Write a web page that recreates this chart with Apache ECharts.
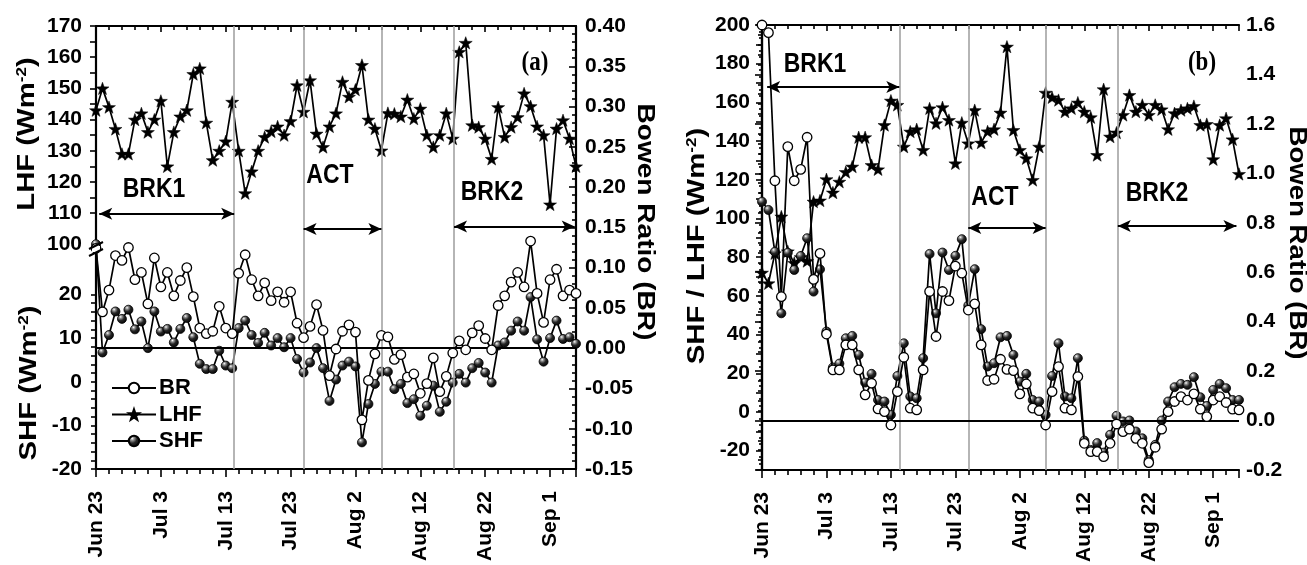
<!DOCTYPE html>
<html>
<head>
<meta charset="utf-8">
<script src="https://cdn.jsdelivr.net/npm/echarts@6/dist/echarts.min.js"></script>
<style>
  html, body { margin: 0; padding: 0; background: #fff; }
  #main { width: 1307px; height: 565px; }
</style>
</head>
<body>
<div id="main"></div>
<script>
// Daily series, day 0 = Jun 23, last day = Sep 5 (day 74)
const dayTickLabels = ['Jun 23', 'Jul 3', 'Jul 13', 'Jul 23', 'Aug 2', 'Aug 12', 'Aug 22', 'Sep 1'];
const lastDay = 74;

// Phase boundaries (day index): end of BRK1, start of ACT, end of ACT, start of BRK2
const phaseBounds = [21.3, 32, 44, 55.2];
const phaseNames = ['BRK1', 'ACT', 'BRK2'];

// Panel (a)
const lhfA = [143, 150, 144, 137, 129, 129, 140, 142, 136, 140, 146, 125, 136, 141, 143, 154.6, 156.4, 139, 127, 130,
  133, 145.7, 130, 116.4, 123.4, 130, 134.4, 136.2, 137.8, 135, 139.5, 151, 142.5, 152.6, 135.5, 131.2, 137.8, 142, 152.1, 147.3,
  149.6, 157.5, 140, 137.1, 130.1, 142.1, 141.9, 141, 146.4, 140.3, 143.5, 135, 131.2, 135, 142, 133.9, 161.7, 164.6, 138.2, 137.6,
  133.9, 127.4, 144, 134.4, 137.6, 140.8, 148.4, 144.3, 137.8, 135, 112.8, 137.1, 139.8, 133.9, 125];
const shfA = [100, 6.7, 10.7, 16.1, 14.4, 16.5, 12, 13.8, 7.7, 16.1, 11.5, 12.1, 9, 12.1, 14.6, 10.2, 4.1, 2.9, 2.9, 7.1,
  3.7, 3.1, 12.3, 14, 10.7, 8.9, 11.2, 8.3, 10, 7.9, 10, 5.2, 2.1, 4.4, 7.7, 3.1, -4.4, 0.5, 3.7, 4.6,
  3.5, -13.9, -5.1, -0.5, 2.3, 2.3, -1.7, -0.5, -4.9, -4, -7.8, -5.5, -0.9, -6.9, -4.6, -0.2, 1.8, -0.2, 3.1, 4.3,
  2.1, -0.2, 8.3, 9, 11.7, 13.8, 11.7, 19.4, 9.7, 4.6, 10, 14, 9.8, 10.2, 8.7];
const brA = [0.124, 0.045, 0.072, 0.115, 0.109, 0.125, 0.085, 0.094, 0.055, 0.112, 0.076, 0.094, 0.065, 0.084, 0.1, 0.064, 0.025, 0.018, 0.021, 0.052,
  0.025, 0.018, 0.093, 0.116, 0.085, 0.065, 0.081, 0.059, 0.07, 0.057, 0.07, 0.031, 0.013, 0.027, 0.054, 0.022, -0.034, -0.001, 0.021, 0.029,
  0.02, -0.089, -0.04, -0.007, 0.016, 0.014, -0.014, -0.008, -0.036, -0.032, -0.056, -0.044, -0.012, -0.054, -0.035, -0.006, 0.009, -0.002, 0.019, 0.028,
  0.012, -0.002, 0.053, 0.065, 0.082, 0.094, 0.076, 0.133, 0.068, 0.032, 0.085, 0.098, 0.065, 0.072, 0.068];

// Panel (b)
const lhfB = [72, 66.5, 82, 101, 83, 77, 80, 78, 108.7, 109.3, 120.3, 113.4, 119, 124, 126.8, 142, 142, 127.6, 125.4, 148.3,
  160.9, 158.7, 137.1, 144.9, 146.1, 135.4, 156.9, 149.2, 157.5, 150.9, 128.5, 149.5, 138.8, 156, 139.2, 145, 146.1, 154.7, 188.8, 145.7,
  135.4, 131.1, 119.9, 137.1, 165, 162.6, 161.2, 155.2, 156.9, 159.9, 155.2, 152.3, 132.8, 166.8, 142.3, 144.4, 153.5, 163.8, 155.2, 158.7,
  153.5, 158.7, 156.4, 146.1, 154.4, 156, 156.9, 158.1, 148.3, 148.8, 130.6, 148.3, 151.8, 140.9, 123];
const shfB = [108.7, 104.4, 82.8, 51, 82.3, 73.4, 80.6, 89.8, 62.2, 73.7, 41.6, 23, 25, 38.1, 39.3, 29.5, 15.2, 19.7, 6.2, 5.4,
  -1.5, 18.6, 35.5, 8, 7.1, 27.8, 81.7, 51, 82.4, 73.4, 80.7, 89.3, 55, 73.8, 42.8, 23.5, 25.2, 38.6, 39.3, 29.5,
  15.7, 19.7, 6.2, 5.4, -1.5, 18.6, 35.5, 8, 7.1, 27.8, -14.8, -19.6, -16.1, -21, -11.8, -2, -4.9, -4.4, -10.1, -13.6,
  -24.8, -17, -4.4, 5.4, 12.8, 14.5, 14, 18, 7.6, 3.1, 11.4, 14.5, 12.3, 6.2, 6.2];
const brB = [1.6, 1.569, 0.97, 0.501, 1.108, 0.97, 1.016, 1.146, 0.571, 0.676, 0.35, 0.205, 0.205, 0.306, 0.306, 0.205, 0.104, 0.151, 0.047, 0.036,
  -0.018, 0.117, 0.256, 0.05, 0.043, 0.205, 0.522, 0.34, 0.522, 0.485, 0.625, 0.596, 0.447, 0.472, 0.306, 0.162, 0.167, 0.248, 0.207, 0.202,
  0.108, 0.148, 0.05, 0.04, -0.018, 0.117, 0.218, 0.05, 0.043, 0.178, -0.092, -0.126, -0.126, -0.146, -0.092, -0.014, -0.045, -0.035, -0.072, -0.092,
  -0.17, -0.108, -0.035, 0.036, 0.077, 0.097, 0.083, 0.108, 0.046, 0.016, 0.083, 0.097, 0.073, 0.046, 0.043];

// Axis tick labels
const lhfAxisLabelsA = [110, 120, 130, 140, 150, 160, 170];
const shfAxisLabelsA = [-20, -10, 0, 10, 20, 100];

// ---- styling ----
const FONT = '"Liberation Sans", Arial, sans-serif';
const SERIF = '"Liberation Serif", "Times New Roman", serif';
const BLACK = '#000';
const STAR = 'path://M0,-10 L2.35,-3.24 L9.51,-3.09 L3.8,1.24 L5.88,8.09 L0,4 L-5.88,8.09 L-3.8,1.24 L-9.51,-3.09 L-2.35,-3.24 Z';
const SPHERE = {
  type: 'radial', x: 0.36, y: 0.3, r: 0.75,
  colorStops: [{ offset: 0, color: '#ffffff' }, { offset: 0.18, color: '#9a9a9a' }, { offset: 0.5, color: '#262626' }, { offset: 1, color: '#000000' }]
};

// arrow heights (in each panel's Bowen-ratio units) and label placement
const layout = {
  a: { arrowY: [0.167, 0.148, 0.151], arrowStart: 0.5, arrowEnd: 73.8,
       textXY: [[154, 189], [330, 175], [492, 192]], tag: '(a)', tagXY: [535, 63] },
  b: { arrowY: [1.349, 0.779, 0.787], arrowStart: 0.8, arrowEnd: 73.6,
       textXY: [[815, 64], [995, 197], [1157, 193]], tag: '(b)', tagXY: [1202, 63] }
};

const pairs = vals => vals.map((v, i) => [i, v]);
const range = (a, b, s) => { const r = []; for (let v = a; v <= b + 1e-9; v += s) r.push(+v.toFixed(4)); return r; };

const labelStyle = { color: BLACK, fontFamily: FONT, fontWeight: 'bold', fontSize: 21 };

function xAxes(gridIndex) {
  return [{
    gridIndex, type: 'value', min: 0, max: lastDay, interval: 10,
    axisLine: { show: true, onZero: false, lineStyle: { color: BLACK, width: 2.2 } },
    axisTick: { show: true, length: 8, lineStyle: { color: BLACK, width: 1.6 } },
    minorTick: { show: true, splitNumber: 5, length: 5, lineStyle: { color: BLACK, width: 1.6 } },
    axisLabel: {
      ...labelStyle, fontSize: 21, rotate: 90, margin: 22, showMaxLabel: false,
      formatter: v => (v % 10 === 0 && dayTickLabels[v / 10]) ? dayTickLabels[v / 10] : ''
    },
    splitLine: { show: false }, minorSplitLine: { show: false }
  }, {
    gridIndex, type: 'value', position: 'top', min: 0, max: lastDay, interval: 10,
    axisLine: { show: true, onZero: false, lineStyle: { color: BLACK, width: 2.2 } },
    axisTick: { show: true, inside: true, length: 6, lineStyle: { color: BLACK, width: 1.6 } },
    minorTick: { show: true, splitNumber: 5, length: 4, lineStyle: { color: BLACK, width: 1.6 } },
    axisLabel: { show: false }, splitLine: { show: false }
  }];
}

function lineSeries(name, data, xi, yi, kind) {
  const s = {
    name, type: 'line', xAxisIndex: xi, yAxisIndex: yi, data: pairs(data),
    lineStyle: { color: BLACK, width: 1.7 }, showAllSymbol: true, animation: false
  };
  if (kind === 'star') {
    Object.assign(s, { symbol: STAR, symbolSize: 13, symbolKeepAspect: true,
      itemStyle: { color: BLACK, borderColor: BLACK, borderWidth: 0.5 }, z: 3 });
  } else if (kind === 'ball') {
    Object.assign(s, { symbol: 'circle', symbolSize: 9,
      itemStyle: { color: SPHERE, borderColor: BLACK, borderWidth: 0.8 }, z: 4 });
  } else {
    Object.assign(s, { symbol: 'circle', symbolSize: 9.5,
      itemStyle: { color: '#fff', borderColor: BLACK, borderWidth: 1.3 }, z: 5 });
  }
  return s;
}

function phaseMarks(key) {
  const L = layout[key];
  const grey = { color: '#a3a3a3', width: 1.6, type: 'solid' };
  const arrow = { color: BLACK, width: 2.2, type: 'solid' };
  const spans = [[L.arrowStart, phaseBounds[0]], [phaseBounds[1], phaseBounds[2]], [phaseBounds[3], L.arrowEnd]];
  const data = phaseBounds.map(x => ({ xAxis: x, lineStyle: grey }));
  data.push({ yAxis: 0, lineStyle: { color: BLACK, width: 2.2, type: 'solid' } });
  spans.forEach((sp, i) => {
    data.push([
      { coord: [sp[0], L.arrowY[i]], symbol: 'arrow', symbolSize: [9, 13], lineStyle: arrow },
      { coord: [sp[1], L.arrowY[i]], symbol: 'arrow', symbolSize: [9, 13] }
    ]);
  });
  return {
    silent: true, symbol: ['none', 'none'], label: { show: false }, animation: false,
    emphasis: { disabled: true }, data
  };
}

function boldText(text, x, y, size, extra) {
  return Object.assign({
    type: 'text', x, y, silent: true,
    style: { text, font: `bold ${size}px ${FONT}`, fill: BLACK,
      align: 'center', verticalAlign: 'middle', textAlign: 'center', textVerticalAlign: 'middle' }
  }, extra || {});
}

function unitTitle(prefix, x, y, rot) {
  return {
    type: 'text', x, y, rotation: rot, scaleX: 1.22, silent: true,
    style: {
      text: `{t|${prefix} (Wm}{s|-2}{t|)}`,
      rich: {
        t: { fontFamily: FONT, fontWeight: 'bold', fontSize: 24, fill: BLACK, color: BLACK },
        s: { fontFamily: FONT, fontWeight: 'bold', fontSize: 14, fill: BLACK, color: BLACK, verticalAlign: 'top' }
      },
      align: 'center', verticalAlign: 'middle', textAlign: 'center', textVerticalAlign: 'middle'
    }
  };
}

const graphics = [];
['a', 'b'].forEach(key => {
  const L = layout[key];
  phaseNames.forEach((n, i) => graphics.push(boldText(n, L.textXY[i][0], L.textXY[i][1], 23, { scaleY: 1.22 })));
  graphics.push({
    type: 'text', x: L.tagXY[0], y: L.tagXY[1], scaleY: 1.15, silent: true,
    style: { text: L.tag, font: `bold 23px ${SERIF}`, fill: BLACK, align: 'center', verticalAlign: 'middle',
      textAlign: 'center', textVerticalAlign: 'middle' }
  });
});
graphics.push(unitTitle('LHF', 27, 134, Math.PI / 2));
graphics.push(unitTitle('SHF', 29, 383, Math.PI / 2));
graphics.push(unitTitle('SHF / LHF', 697, 246, Math.PI / 2));
graphics.push(boldText('Bowen Ratio (BR)', 644, 222, 23, { rotation: -Math.PI / 2, scaleX: 1.22 }));
graphics.push(boldText('Bowen Ratio (BR)', 1296, 243, 23, { rotation: -Math.PI / 2, scaleX: 1.2 }));
// axis-break mark on the left axis of panel (a)
graphics.push({ type: 'rect', shape: { x: 92, y: 246, width: 8, height: 6 }, style: { fill: '#fff' }, z: 100, silent: true });
graphics.push({ type: 'line', shape: { x1: 89, y1: 249, x2: 103, y2: 242 }, style: { stroke: BLACK, lineWidth: 2 }, z: 101, silent: true });
graphics.push({ type: 'line', shape: { x1: 89, y1: 256, x2: 103, y2: 249 }, style: { stroke: BLACK, lineWidth: 2 }, z: 101, silent: true });

const option = {
  animation: false,
  backgroundColor: '#fff',
  grid: [
    { left: 96, top: 26, width: 480, height: 443, outerBoundsMode: 'none', containLabel: false },
    { left: 762, top: 25, width: 477, height: 445, outerBoundsMode: 'none', containLabel: false }
  ],
  xAxis: [...xAxes(0), ...xAxes(1)],
  yAxis: [
    { // LHF, panel (a), upper part of the left axis
      gridIndex: 0, type: 'value', position: 'left', min: 28, max: 170,
      axisLine: { show: true, lineStyle: { color: BLACK, width: 2.2 } },
      axisTick: { show: true, customValues: range(110, 170, 5), length: 6, lineStyle: { color: BLACK, width: 1.6 } },
      axisLabel: { ...labelStyle, customValues: lhfAxisLabelsA, margin: 14 },
      splitLine: { show: false }
    },
    { // SHF, panel (a), lower part of the left axis (broken above 20)
      gridIndex: 0, type: 'value', position: 'left', min: -20, max: 150,
      breaks: [{ start: 22, end: 98, gap: '7.4%' }],
      breakArea: { show: false },
      axisLine: { show: false },
      axisTick: { show: true, customValues: range(-20, 20, 2), length: 5, lineStyle: { color: BLACK, width: 1.6 } },
      axisLabel: { ...labelStyle, customValues: shfAxisLabelsA, margin: 14 },
      splitLine: { show: false }
    },
    { // Bowen ratio, panel (a)
      gridIndex: 0, type: 'value', position: 'right', min: -0.15, max: 0.40, interval: 0.05,
      axisLine: { show: true, lineStyle: { color: BLACK, width: 2.2 } },
      axisTick: { show: true, inside: true, length: 7, lineStyle: { color: BLACK, width: 1.6 } },
      minorTick: { show: true, splitNumber: 5, length: 4, lineStyle: { color: BLACK, width: 1.6 } },
      axisLabel: { ...labelStyle, margin: 9, formatter: v => v.toFixed(2) },
      splitLine: { show: false }
    },
    { // SHF / LHF, panel (b)
      gridIndex: 1, type: 'value', position: 'left', min: -30, max: 200, interval: 10,
      axisLine: { show: true, lineStyle: { color: BLACK, width: 2.2 } },
      axisTick: { show: true, length: 6, lineStyle: { color: BLACK, width: 1.6 } },
      minorTick: { show: true, splitNumber: 3, length: 3, lineStyle: { color: BLACK, width: 1.6 } },
      axisLabel: { ...labelStyle, margin: 12, formatter: v => (v % 20 === 0 ? String(v) : '') },
      splitLine: { show: false }
    },
    { // Bowen ratio, panel (b)
      gridIndex: 1, type: 'value', position: 'right', min: -0.2, max: 1.6, interval: 0.2,
      axisLine: { show: true, lineStyle: { color: BLACK, width: 2.2 } },
      axisTick: { show: true, inside: true, length: 7, lineStyle: { color: BLACK, width: 1.6 } },
      minorTick: { show: true, splitNumber: 5, length: 4, lineStyle: { color: BLACK, width: 1.6 } },
      axisLabel: { ...labelStyle, margin: 7, formatter: v => v.toFixed(1) },
      splitLine: { show: false }
    }
  ],
  legend: {
    data: ['BR', 'LHF', 'SHF'], orient: 'vertical', left: 106, top: 372,
    itemWidth: 44, itemHeight: 13, itemGap: 4.5, selectedMode: false,
    textStyle: { color: BLACK, fontFamily: FONT, fontWeight: 'bold', fontSize: 22, lineHeight: 20, padding: [0, 0, 0, -2] }
  },
  series: [
    lineSeries('LHF', lhfA, 0, 0, 'star'),
    lineSeries('SHF', shfA, 0, 1, 'ball'),
    Object.assign(lineSeries('BR', brA, 0, 2, 'open'), { markLine: phaseMarks('a') }),
    lineSeries('LHF', lhfB, 2, 3, 'star'),
    lineSeries('SHF', shfB, 2, 3, 'ball'),
    Object.assign(lineSeries('BR', brB, 2, 4, 'open'), { markLine: phaseMarks('b') })
  ],
  graphic: graphics
};

const chart = echarts.init(document.getElementById('main'), null, { renderer: 'canvas' });
chart.setOption(option);
</script>
</body>
</html>
